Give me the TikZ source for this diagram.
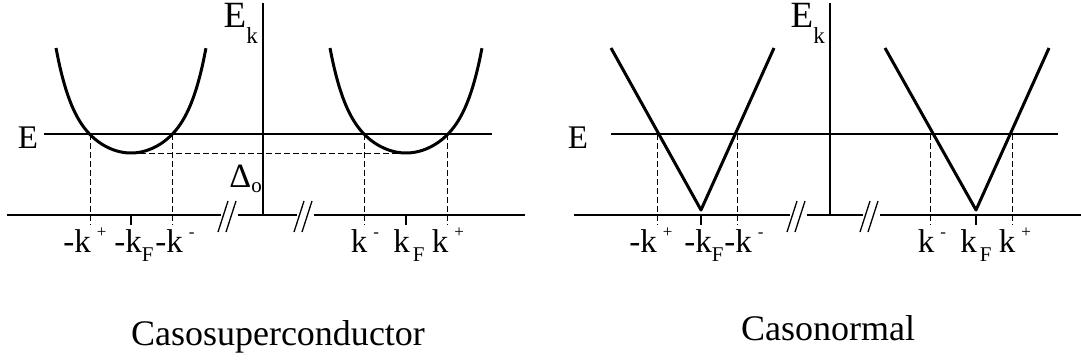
\documentclass[tikz,border=0pt]{standalone}
\usepackage{fontspec}
\setmainfont{Liberation Serif}
\usetikzlibrary{positioning,calc}

\newcommand{\upmark}[1]{\raisebox{15pt}{\fontsize{17}{17}\selectfont #1}}
\newcommand{\dnmark}[1]{\raisebox{-9pt}{\fontsize{21}{21}\selectfont #1}}

\tikzset{
    axisLine/.style={line width=1.3pt, draw=black},
    bandCurve/.style={line width=3pt, draw=black, line join=round},
    guideLine/.style={line width=1pt, dash pattern=on 6pt off 3pt},
    tickMark/.style={line width=1.3pt},
    breakMark/.style={line width=1.3pt},
    eLabel/.style={font=\fontsize{33}{33}\selectfont, inner sep=0pt},
    kLabel/.style={font=\fontsize{33}{33}\selectfont, inner sep=0pt, anchor=base},
    capLabel/.style={font=\fontsize{36}{36}\selectfont, inner sep=0pt, anchor=base}
}

\begin{document}
\begin{tikzpicture}[x=1pt, y=-1pt]
    \useasboundingbox (0,0) rectangle (1081,362);

    % superconducting case
    \draw[axisLine] (263,3) -- (263,215);
    \draw[axisLine] (7,215) -- (221,215);
    \draw[axisLine] (238,215) -- (297,215);
    \draw[axisLine] (314,215) -- (525,215);
    \draw[axisLine] (44,134) -- (492,134);
    \draw[bandCurve] plot[domain=-1:1, samples=60, smooth] ({131+75*\x},{153-105*(0.55*(\x)^2+0.45*(\x)^6)});
    \draw[bandCurve] plot[domain=-1:1, samples=60, smooth] ({406+76*\x},{153-105*(0.55*(\x)^2+0.45*(\x)^6)});
    \draw[guideLine] (131,153) -- (406,153);
    \foreach \kx in {90,172,364,447}
        \draw[guideLine] (\kx,134) -- (\kx,225);
    \foreach \kx in {131,406}
        \draw[tickMark] (\kx,215) -- (\kx,225);

    \node[eLabel, anchor=base] (lE) at (28,148) {E};
    \node[eLabel, anchor=north east] (lEk) at (258,3) {\fontsize{37}{37}\selectfont E\raisebox{-16pt}{\fontsize{23}{23}\selectfont k}};
    \node[eLabel, anchor=base east] (lDelta) at (262,187) {\fontsize{34}{34}\selectfont Δ\raisebox{-5pt}{\fontsize{21}{21}\selectfont o}};

    \node[kLabel] (lkp) at (85,252) {-k\hspace{6pt}\upmark{+}};
    \node[kLabel] (lkf) at (134,252) {-k\dnmark{F}};
    \node[kLabel] (lkm) at (175,252) {-k\hspace{6pt}\upmark{-}};
    \node[kLabel] (lkmr) at (365,252) {k\hspace{6pt}\upmark{-}};
    \node[kLabel] (lkfr) at (409,252) {k\hspace{3pt}\dnmark{F}};
    \node[kLabel] (lkpr) at (448,252) {k\hspace{6pt}\upmark{+}};

    \node[capLabel] (lcap) at (278,345) {Casosuperconductor};

    % normal case
    \draw[axisLine] (830,3) -- (830,215);
    \draw[axisLine] (574,215) -- (790,215);
    \draw[axisLine] (807,215) -- (863,215);
    \draw[axisLine] (880,215) -- (1081,215);
    \draw[axisLine] (611,134) -- (1058,134);
    \draw[bandCurve] (611,48) -- (701,210) -- (774,48);
    \draw[bandCurve] (885,48) -- (976,210) -- (1049,48);
    \foreach \kx in {657,737,930,1012}
        \draw[guideLine] (\kx,134) -- (\kx,225);
    \foreach \kx in {701,976}
        \draw[tickMark] (\kx,215) -- (\kx,225);

    \node[eLabel, anchor=base] (nE) at (578,148) {E};
    \node[eLabel, anchor=north east] (nEk) at (825,3) {\fontsize{37}{37}\selectfont E\raisebox{-16pt}{\fontsize{23}{23}\selectfont k}};

    \node[kLabel] (nkp) at (651,252) {-k\hspace{6pt}\upmark{+}};
    \node[kLabel] (nkf) at (704,252) {-k\dnmark{F}};
    \node[kLabel] (nkm) at (744,252) {-k\hspace{6pt}\upmark{-}};
    \node[kLabel] (nkmr) at (932,252) {k\hspace{6pt}\upmark{-}};
    \node[kLabel] (nkfr) at (976,252) {k\hspace{3pt}\dnmark{F}};
    \node[kLabel] (nkpr) at (1015,252) {k\hspace{6pt}\upmark{+}};

    \node[capLabel] (ncap) at (828,340) {Casonormal};

    % axis breaks
    \foreach \bx in {227,303,796,869} {
        \draw[breakMark] (\bx-9,232) -- (\bx+1,201);
        \draw[breakMark] (\bx-1,232) -- (\bx+9,201);
    }
\end{tikzpicture}
\end{document}
